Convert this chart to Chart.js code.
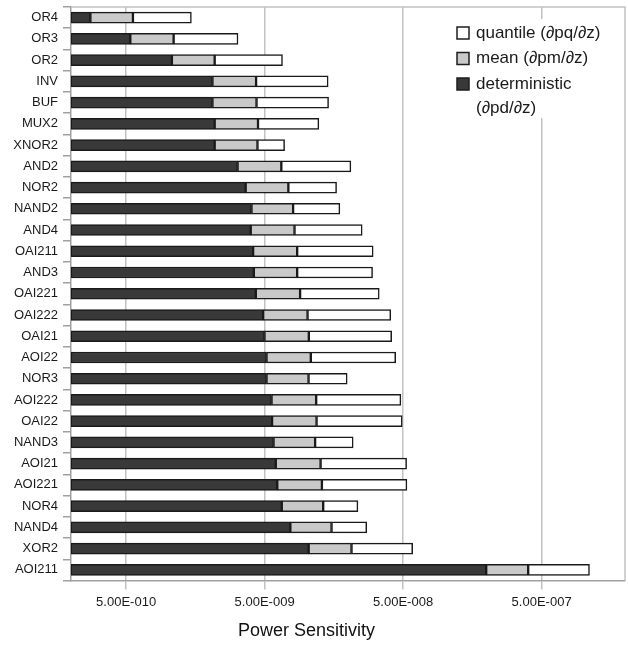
<!DOCTYPE html>
<html>
<head>
<meta charset="utf-8">
<script src="https://cdn.jsdelivr.net/npm/chart.js@4.4.1/dist/chart.umd.min.js"></script>
<style>
  html, body { margin: 0; padding: 0; background: #fff; }
  #wrap { position: relative; width: 628px; height: 646px; }
</style>
</head>
<body>
<div id="wrap"><canvas id="chart"></canvas></div>
<script>
const cells = ["OR4", "OR3", "OR2", "INV", "BUF", "MUX2", "XNOR2", "AND2", "NOR2", "NAND2",
  "AND4", "OAI211", "AND3", "OAI221", "OAI222", "OAI21", "AOI22", "NOR3", "AOI222", "OAI22",
  "NAND3", "AOI21", "AOI221", "NOR4", "NAND4", "XOR2", "AOI211"];

const deterministic = [2.76e-10, 5.36e-10, 1.07e-9, 2.10e-9, 2.10e-9, 2.18e-9, 2.18e-9, 3.19e-9, 3.65e-9, 4.02e-9,
  3.97e-9, 4.13e-9, 4.18e-9, 4.32e-9, 4.88e-9, 4.99e-9, 5.16e-9, 5.16e-9, 5.61e-9, 5.66e-9,
  5.80e-9, 6.02e-9, 6.17e-9, 6.65e-9, 7.67e-9, 1.04e-8, 1.99e-7];
const mean = [2.84e-10, 5.66e-10, 1.11e-9, 2.24e-9, 2.27e-9, 2.30e-9, 2.26e-9, 3.41e-9, 3.77e-9, 4.01e-9,
  4.25e-9, 4.46e-9, 4.41e-9, 4.70e-9, 5.33e-9, 5.44e-9, 5.62e-9, 5.22e-9, 6.17e-9, 6.20e-9,
  5.78e-9, 6.66e-9, 6.79e-9, 6.59e-9, 7.54e-9, 1.08e-8, 2.01e-7];
const quantile = [9.2e-10, 2.11e-9, 4.55e-9, 1.004e-8, 1.011e-8, 7.84e-9, 2.53e-9, 1.438e-8, 9.12e-9, 9.44e-9,
  1.71e-8, 2.18e-8, 2.15e-8, 2.46e-8, 3.05e-8, 3.09e-8, 3.34e-8, 9.35e-9, 3.64e-8, 3.74e-8,
  1.022e-8, 4.03e-8, 4.03e-8, 1.034e-8, 1.21e-8, 3.74e-8, 7.08e-7];

const tickValues = [5e-10, 5e-9, 5e-8, 5e-7];
const tickLabels = ["5.00E-010", "5.00E-009", "5.00E-008", "5.00E-007"];
const axisTitle = "Power Sensitivity";

const FONT = "'Liberation Sans', Arial, sans-serif";
const colors = { deterministic: "#393939", mean: "#c9c9c9", quantile: "#ffffff" };

// light frame on top and right of the plot
const framePlugin = {
  id: "frame",
  beforeDatasetsDraw(chart) {
    const { ctx, chartArea: a } = chart;
    ctx.save();
    ctx.strokeStyle = "#c2c2c2";
    ctx.lineWidth = 1.5;
    ctx.beginPath();
    ctx.moveTo(a.left, a.top);
    ctx.lineTo(a.right, a.top);
    ctx.lineTo(a.right, a.bottom);
    ctx.stroke();
    ctx.restore();
  }
};

// legend sits inside the plot, top right, reversed order
const legendPlugin = {
  id: "insideLegend",
  afterDatasetsDraw(chart) {
    const ctx = chart.ctx;
    ctx.save();
    ctx.fillStyle = "#fff";
    ctx.fillRect(450, 19, 168, 99);
    ctx.font = "17px " + FONT;
    ctx.textBaseline = "middle";
    ctx.textAlign = "left";
    let y = 33;
    chart.data.datasets.slice().reverse().forEach(ds => {
      const lines = ds.label.split("\n");
      ctx.fillStyle = ds.backgroundColor;
      ctx.strokeStyle = "#1e1e1e";
      ctx.lineWidth = 1.5;
      ctx.fillRect(457, y - 6, 12, 12);
      ctx.strokeRect(457, y - 6, 12, 12);
      ctx.fillStyle = "#1a1a1a";
      lines.forEach((ln, i) => ctx.fillText(ln, 476, y + i * 24.5));
      y += lines.length * 25.5;
    });
    ctx.restore();
  }
};

const titlePlugin = {
  id: "axisTitle",
  afterDraw(chart) {
    const ctx = chart.ctx;
    ctx.save();
    ctx.font = "18px " + FONT;
    ctx.fillStyle = "#111";
    ctx.textAlign = "center";
    ctx.textBaseline = "middle";
    ctx.fillText(axisTitle, 306.5, 631);
    ctx.restore();
  }
};

const barBase = { borderColor: "#1a1a1a", borderWidth: 1.5, borderSkipped: false, barThickness: 11 };

new Chart(document.getElementById("chart"), {
  type: "bar",
  data: {
    labels: cells,
    datasets: [
      { label: "deterministic\n(∂pd/∂z)", data: deterministic, backgroundColor: colors.deterministic, ...barBase },
      { label: "mean (∂pm/∂z)", data: mean, backgroundColor: colors.mean, ...barBase },
      { label: "quantile (∂pq/∂z)", data: quantile, backgroundColor: colors.quantile, ...barBase }
    ]
  },
  options: {
    indexAxis: "y",
    responsive: true,
    maintainAspectRatio: false,
    animation: false,
    layout: { padding: { top: 7, right: 3, left: 0, bottom: 0 } },
    plugins: { legend: { display: false }, tooltip: { enabled: false } },
    scales: {
      x: {
        type: "logarithmic",
        stacked: true,
        min: 2e-10,
        max: 2e-6,
        afterBuildTicks: scale => { scale.ticks = tickValues.map(v => ({ value: v })); },
        afterFit: scale => { scale.height = 65.5; scale.paddingLeft = 0; scale.paddingRight = 0; },
        grid: { color: "#c2c2c2", lineWidth: 1.5, tickLength: 9 },
        border: { color: "#a0a0a0", width: 1.5 },
        ticks: {
          padding: 5,
          color: "#1a1a1a",
          font: { family: FONT, size: 13 },
          autoSkip: false,
          maxRotation: 0,
          callback: (v) => tickLabels[tickValues.indexOf(v)] ?? ""
        }
      },
      y: {
        stacked: true,
        afterFit: scale => { scale.width = 71; scale.paddingTop = 0; scale.paddingBottom = 0; },
        grid: { offset: true, drawOnChartArea: false, tickLength: 8, color: "#a0a0a0", lineWidth: 1.5 },
        border: { color: "#a0a0a0", width: 1.5 },
        ticks: { padding: 5, color: "#1a1a1a", font: { family: FONT, size: 13 }, autoSkip: false }
      }
    }
  },
  plugins: [framePlugin, legendPlugin, titlePlugin]
});
</script>
</body>
</html>
